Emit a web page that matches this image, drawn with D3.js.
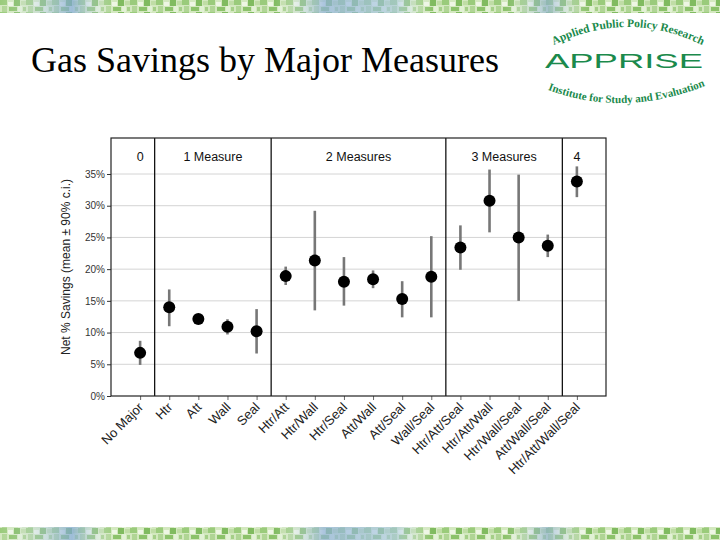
<!DOCTYPE html>
<html>
<head>
<meta charset="utf-8">
<script src="https://cdn.jsdelivr.net/npm/d3@7"></script>
<style>
  body { margin: 0; background: #fff; }
  svg { display: block; }
</style>
</head>
<body>
<svg id="chart" width="720" height="540"></svg>
<script>
// data
const categories = ["No Major", "Htr", "Att", "Wall", "Seal",
  "Htr/Att", "Htr/Wall", "Htr/Seal", "Att/Wall", "Att/Seal", "Wall/Seal",
  "Htr/Att/Seal", "Htr/Att/Wall", "Htr/Wall/Seal", "Att/Wall/Seal", "Htr/Att/Wall/Seal"];
const means = [6.8, 14.0, 12.15, 10.9, 10.2, 18.9, 21.35, 18.0, 18.4, 15.3, 18.8, 23.4, 30.8, 25.0, 23.7, 33.8];
const upper = [8.7, 16.8, 12.7, 12.1, 13.7, 20.4, 29.2, 21.9, 19.8, 18.1, 25.2, 26.9, 35.7, 34.9, 25.45, 36.2];
const lower = [4.9, 11.0, 11.5, 9.7, 6.7, 17.5, 13.5, 14.25, 17.0, 12.4, 12.4, 19.9, 25.8, 15.0, 21.9, 31.35];
const groupLabels = ["0", "1 Measure", "2 Measures", "3 Measures", "4"];
const groupSizes = [1, 4, 6, 4, 1];
const yTicks = [0, 5, 10, 15, 20, 25, 30, 35];

const svg = d3.select("#chart");

// ---- decorative banners top and bottom
const defs = svg.append("defs");
const pat = defs.append("pattern").attr("id", "strip")
  .attr("patternUnits", "userSpaceOnUse").attr("width", 26).attr("height", 12);
pat.append("rect").attr("width", 26).attr("height", 12).attr("fill", "#d3e8bf");
[[0, 0, 7, 5, "#9acb7b"], [8, 2, 5, 4, "#eef6e4"], [14, 0, 6, 6, "#80bb60"], [21, 1, 5, 4, "#c0dda6"],
 [2, 6, 5, 6, "#b0d595"], [9, 7, 8, 4, "#8cc26b"], [18, 6, 4, 6, "#e2f1d5"], [23, 7, 3, 4, "#a5cf88"]]
  .forEach(r => pat.append("rect").attr("x", r[0]).attr("y", r[1]).attr("width", r[2]).attr("height", r[3]).attr("fill", r[4]));
const blueGrad = defs.append("linearGradient").attr("id", "blues");
[[0, "#fff", 0], [0.1, "#7fa6d8", 0.7], [0.16, "#fff", 0], [0.38, "#fff", 0], [0.45, "#8fb0dc", 0.7],
 [0.55, "#a8c6e6", 0.6], [0.6, "#fff", 0], [0.7, "#fff", 0], [0.76, "#88aad6", 0.6], [0.82, "#fff", 0]]
  .forEach(s => blueGrad.append("stop").attr("offset", s[0]).attr("stop-color", s[1]).attr("stop-opacity", s[2]));

[[0, 13], [527, 13]].forEach(b => {
  svg.append("rect").attr("x", 0).attr("y", b[0]).attr("width", 720).attr("height", b[1]).attr("fill", "url(#strip)");
  svg.append("rect").attr("x", 0).attr("y", b[0]).attr("width", 720).attr("height", b[1]).attr("fill", "url(#blues)");
});

// ---- title
svg.append("text").attr("x", 31).attr("y", 72)
  .attr("font-family", "Liberation Serif, Times New Roman, serif").attr("font-size", 36)
  .attr("fill", "#000").text("Gas Savings by Major Measures");

// ---- logo
const green = "#1b8a4c";
defs.append("path").attr("id", "arcTop").attr("d", "M 552,46 Q 627,8 704,46");
defs.append("path").attr("id", "arcBot").attr("d", "M 543,88 Q 622,120 710,84");
svg.append("text").attr("font-family", "Liberation Serif, serif").attr("font-weight", "bold")
  .attr("font-size", 11.5).attr("fill", green)
  .append("textPath").attr("href", "#arcTop").attr("startOffset", "50%").attr("text-anchor", "middle")
  .text("Applied Public Policy Research");
svg.append("text").attr("x", 545).attr("y", 68)
  .attr("font-family", "Liberation Sans, Arial, sans-serif").attr("font-size", 21)
  .attr("textLength", 158).attr("lengthAdjust", "spacingAndGlyphs")
  .attr("fill", green).text("APPRISE");
svg.append("text").attr("font-family", "Liberation Serif, serif").attr("font-weight", "bold")
  .attr("font-size", 11).attr("fill", green)
  .append("textPath").attr("href", "#arcBot").attr("startOffset", "50%").attr("text-anchor", "middle")
  .text("Institute for Study and Evaluation");

// ---- chart
const plotLeft = 111, plotRight = 606, plotTop = 138, plotBottom = 396;
const x = d3.scalePoint().domain(categories).range([plotLeft, plotRight]).padding(1);
const y = d3.scaleLinear().domain([0, 35]).range([plotBottom, 174]);
const font = "Liberation Sans, Arial, sans-serif";

const chart = svg.append("g");

// gridlines
chart.selectAll(".grid").data(yTicks.slice(1)).enter().append("line")
  .attr("x1", plotLeft).attr("x2", plotRight)
  .attr("y1", d => y(d)).attr("y2", d => y(d))
  .attr("stroke", "#d4d4d4").attr("stroke-width", 1);

// y axis
const yAxis = d3.axisLeft(y).tickValues(yTicks).tickSize(4).tickFormat(d => d + "%");
const yg = chart.append("g").attr("transform", "translate(" + plotLeft + ",0)").call(yAxis);
yg.select(".domain").remove();
yg.selectAll("line").attr("stroke", "#333");
yg.selectAll("text").attr("font-family", font).attr("font-size", 10).attr("fill", "#333").attr("x", -6);

// x axis
const xAxis = d3.axisBottom(x).tickSize(4).tickFormat("");
const xg = chart.append("g").attr("transform", "translate(0," + plotBottom + ")").call(xAxis);
xg.select(".domain").remove();
xg.selectAll("line").attr("stroke", "#666");

chart.selectAll(".xlab").data(categories).enter().append("text")
  .attr("transform", d => "translate(" + (x(d) + 4) + "," + 408 + ") rotate(-45)")
  .attr("text-anchor", "end").attr("font-family", font).attr("font-size", 13).attr("fill", "#222")
  .text(d => d);

// y label
svg.append("text").attr("transform", "translate(70,267) rotate(-90)")
  .attr("text-anchor", "middle").attr("font-family", font).attr("font-size", 12).attr("fill", "#222")
  .text("Net % Savings (mean \u00b1 90% c.i.)");

// panel dividers and labels
let start = 0;
const step = x.step();
groupSizes.forEach((n, i) => {
  const x0 = x(categories[start]) - step / 2;
  const x1 = x(categories[start + n - 1]) + step / 2;
  if (i > 0) {
    chart.append("line").attr("x1", x0).attr("x2", x0).attr("y1", plotTop).attr("y2", plotBottom)
      .attr("stroke", "#000").attr("stroke-width", 1.2);
  }
  chart.append("text").attr("x", (x0 + x1) / 2).attr("y", 161)
    .attr("text-anchor", "middle").attr("font-family", font).attr("font-size", 12.5).attr("fill", "#111")
    .text(groupLabels[i]);
  start += n;
});

// frame
chart.append("rect").attr("x", plotLeft).attr("y", plotTop)
  .attr("width", plotRight - plotLeft).attr("height", plotBottom - plotTop)
  .attr("fill", "none").attr("stroke", "#222").attr("stroke-width", 1.2);

// error bars and points
chart.selectAll(".err").data(categories).enter().append("line")
  .attr("x1", d => x(d)).attr("x2", d => x(d))
  .attr("y1", (d, i) => y(upper[i])).attr("y2", (d, i) => y(lower[i]))
  .attr("stroke", "#777").attr("stroke-width", 2.6);
chart.selectAll(".pt").data(categories).enter().append("circle")
  .attr("cx", d => x(d)).attr("cy", (d, i) => y(means[i]))
  .attr("r", 6).attr("fill", "#000");
</script>
</body>
</html>
